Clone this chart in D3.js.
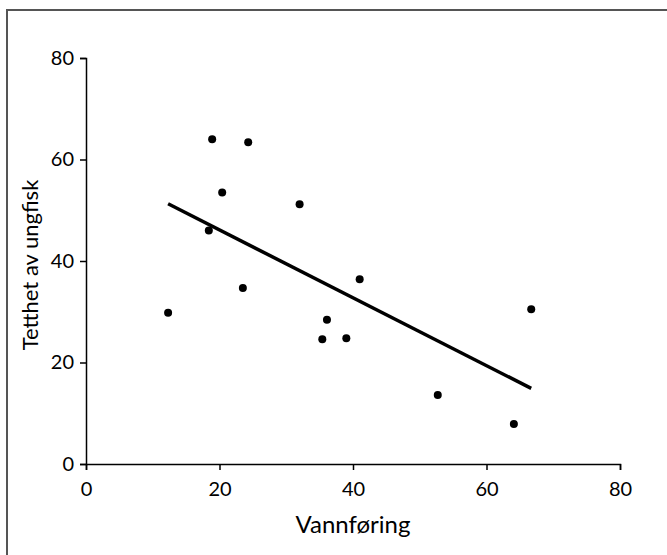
<!DOCTYPE html>
<html>
<head>
<meta charset="utf-8">
<script src="https://cdn.jsdelivr.net/npm/d3@7"></script>
<style>
  body { margin: 0; background: #fff; }
  svg text { font-family: Lato, "Open Sans", sans-serif; fill: #000; }
</style>
</head>
<body>
<svg id="chart" width="667" height="555"></svg>
<script>
// flow (Vannføring) and juvenile fish density (Tetthet av ungfisk)
var flow    = [12.3, 18.9, 24.3, 20.4, 32.0, 18.4, 23.5, 41.0, 66.7, 36.1, 35.4, 39.0, 52.7, 64.1];
var density = [29.8, 64.0, 63.4, 53.5, 51.2, 46.0, 34.7, 36.4, 30.5, 28.4, 24.6, 24.8, 13.6, 7.9];
var xTicks = [0, 20, 40, 60, 80];
var yTicks = [0, 20, 40, 60, 80];

var svg = d3.select('#chart');

// frame (only top and left edges are visible in the picture)
svg.append('rect')
  .attr('x', 7).attr('y', 10)
  .attr('width', 700).attr('height', 600)
  .attr('fill', 'none')
  .attr('stroke', '#555')
  .attr('stroke-width', 2);

var x = d3.scaleLinear().domain([0, 80]).range([86, 620]);
var y = d3.scaleLinear().domain([0, 80]).range([464, 58]);

var xAxis = svg.append('g')
  .attr('transform', 'translate(0,' + y(0) + ')')
  .call(d3.axisBottom(x).tickValues(xTicks).tickSize(6).tickPadding(12));

var yAxis = svg.append('g')
  .attr('transform', 'translate(' + x(0) + ',0)')
  .call(d3.axisLeft(y).tickValues(yTicks).tickSize(6).tickPadding(6));

[xAxis, yAxis].forEach(function (g) {
  g.select('.domain').attr('stroke', '#000').attr('stroke-width', 1.5);
  g.selectAll('.tick line').attr('stroke', '#000').attr('stroke-width', 1.5);
  g.selectAll('.tick text').style('font-size', '20px').attr('fill', '#000');
});

// least-squares fit line over the data range
var mx = d3.mean(flow), my = d3.mean(density);
var sxy = d3.sum(flow, function (d, i) { return (d - mx) * (density[i] - my); });
var sxx = d3.sum(flow, function (d) { return (d - mx) * (d - mx); });
var slope = sxy / sxx, intercept = my - slope * mx;
var ext = d3.extent(flow);

svg.append('line')
  .attr('x1', x(ext[0])).attr('y1', y(intercept + slope * ext[0]))
  .attr('x2', x(ext[1])).attr('y2', y(intercept + slope * ext[1]))
  .attr('stroke', '#000')
  .attr('stroke-width', 3.5);

svg.append('g').selectAll('circle')
  .data(flow)
  .join('circle')
  .attr('cx', function (d) { return x(d); })
  .attr('cy', function (d, i) { return y(density[i]); })
  .attr('r', 4)
  .attr('fill', '#000');

// axis titles
svg.append('text')
  .attr('x', (x(0) + x(80)) / 2)
  .attr('y', 533)
  .attr('text-anchor', 'middle')
  .style('font-size', '24px')
  .text('Vannføring');

svg.append('text')
  .attr('transform', 'translate(38,265) rotate(-90)')
  .attr('text-anchor', 'middle')
  .style('font-size', '22px')
  .text('Tetthet av ungfisk');
</script>
</body>
</html>
